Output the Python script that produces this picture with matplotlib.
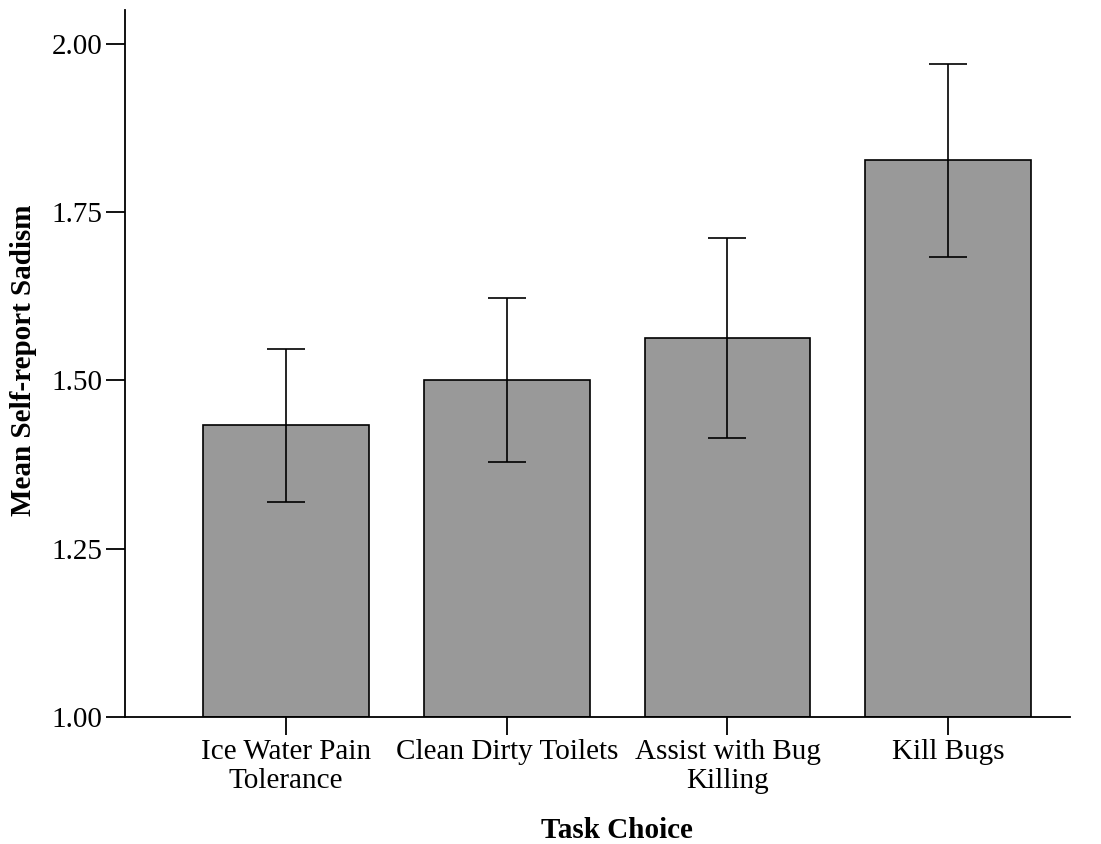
import matplotlib
matplotlib.use("Agg")
import matplotlib.pyplot as plt
import numpy as np

categories = ["Ice Water Pain\nTolerance", "Clean Dirty Toilets", "Assist with Bug\nKilling", "Kill Bugs"]
means = [1.433, 1.500, 1.563, 1.827]
ci_low = [1.320, 1.378, 1.415, 1.683]
ci_high = [1.547, 1.622, 1.711, 1.970]
yticks = [1.00, 1.25, 1.50, 1.75, 2.00]
ytick_labels = ["1.00", "1.25", "1.50", "1.75", "2.00"]

plt.rcParams['font.family'] = ['Liberation Serif', 'DejaVu Serif']

fig = plt.figure(figsize=(11.01, 8.44), dpi=100)
ax = fig.add_axes([125/1101, 1 - 717/844, (1070-125)/1101, (717-10)/844])

x = np.arange(len(categories))
means_a = np.array(means)
yerr = np.vstack([means_a - np.array(ci_low), np.array(ci_high) - means_a])

ax.bar(x, means_a - 1.0, bottom=1.0, width=0.75, color="#999999", edgecolor="black", linewidth=1.2, zorder=2)
ax.errorbar(x, means_a, yerr=yerr, fmt='none', ecolor='black', elinewidth=1.2, capsize=13.5, capthick=1.2, zorder=3)

ax.set_xlim(-0.73, 3.552)
ax.set_ylim(1.0, 2.05)
ax.set_yticks(yticks)
ax.set_yticklabels(ytick_labels, fontsize=21)
ax.set_xticks(x)
ax.set_xticklabels(categories, fontsize=21, linespacing=1.15)

for s in ["top", "right"]:
    ax.spines[s].set_visible(False)
for s in ["left", "bottom"]:
    ax.spines[s].set_linewidth(1.3)

ax.tick_params(axis='y', direction='out', length=14, width=1.3, pad=2)
ax.tick_params(axis='x', direction='out', length=13, width=1.3, pad=3)

fig.text(617/1101, 1 - 831/844, "Task Choice", fontsize=21, fontweight='bold', ha='center', va='center')
fig.text(24/1101, 1 - 360/844, "Mean Self-report Sadism", fontsize=21, fontweight='bold', ha='center', va='center', rotation=90)

fig.savefig("out.png", dpi=100)
